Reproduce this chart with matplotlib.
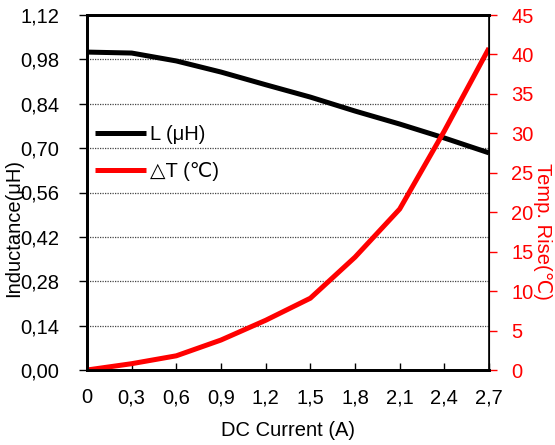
import matplotlib
matplotlib.use("Agg")
import matplotlib.pyplot as plt

plt.rcParams['font.family'] = ['Liberation Sans', 'DejaVu Sans']

current = [0, 0.3, 0.6, 0.9, 1.2, 1.5, 1.8, 2.1, 2.4, 2.7]
inductance = [1.003, 1.0, 0.975, 0.94, 0.90, 0.861, 0.817, 0.776, 0.732, 0.685]
temp_rise = [0, 0.8, 1.8, 3.8, 6.3, 9.1, 14.3, 20.4, 30.3, 40.8]

x_ticks = [0, 0.3, 0.6, 0.9, 1.2, 1.5, 1.8, 2.1, 2.4, 2.7]
x_labels = ["0", "0,3", "0,6", "0,9", "1,2", "1,5", "1,8", "2,1", "2,4", "2,7"]
y_ticks = [0, 0.14, 0.28, 0.42, 0.56, 0.70, 0.84, 0.98, 1.12]
y_labels = ["0,00", "0,14", "0,28", "0,42", "0,56", "0,70", "0,84", "0,98", "1,12"]
y2_ticks = [0, 5, 10, 15, 20, 25, 30, 35, 40, 45]

fig = plt.figure(figsize=(5.55, 4.45), dpi=100)
ax = fig.add_axes([87/555, 1 - 370/445, 402/555, 355/445])
ax2 = ax.twinx()

fs = 14.5
l1, = ax.plot(current, inductance, color='black', lw=3.6, solid_capstyle='butt', label='L (μH)')
l2, = ax2.plot(current, temp_rise, color='red', lw=3.6, solid_capstyle='butt', label='△T (℃)')

ax.set_xlim(0, 2.7)
ax.set_ylim(0, 1.12)
ax2.set_ylim(0, 45)
ax.set_xticks(x_ticks)
ax.set_xticklabels(x_labels, fontsize=fs)
ax.set_yticks(y_ticks)
ax.set_yticklabels(y_labels, fontsize=fs)
ax2.set_yticks(y2_ticks)
ax2.set_yticklabels([str(v) for v in y2_ticks], fontsize=fs, color='red')

ax.tick_params(axis='x', direction='in', length=5, width=1, pad=13)
ax.tick_params(axis='y', direction='out', length=6, width=1, pad=14)
ax2.tick_params(axis='y', direction='out', length=6, width=1, colors='red', pad=10)

ax.grid(axis='y', color='#444444', linestyle=(0, (1, 1)), linewidth=0.9)
ax.set_axisbelow(True)

for sp in ['left', 'bottom', 'top']:
    ax.spines[sp].set_linewidth(2)
    ax2.spines[sp].set_linewidth(2)
ax2.spines['right'].set_linewidth(1.2)
ax2.spines['right'].set_color('black')

ax.set_xlabel('DC Current (A)', fontsize=fs, labelpad=10)
ax.set_ylabel('Inductance(μH)', fontsize=fs)
ax.yaxis.set_label_coords(-0.159, 0.40)
ax2.set_ylabel('Temp. Rise(℃)', fontsize=fs, color='red', rotation=270, va='center')
ax2.yaxis.set_label_coords(1.132, 0.389)

leg = ax.legend(handles=[l1, l2], loc='center left', bbox_to_anchor=(0.0, 0.612),
                frameon=False, fontsize=fs, handlelength=2.55, handletextpad=0.2,
                labelspacing=0.9, borderaxespad=0.0, borderpad=0.4)

fig.savefig('out.png', dpi=100)
